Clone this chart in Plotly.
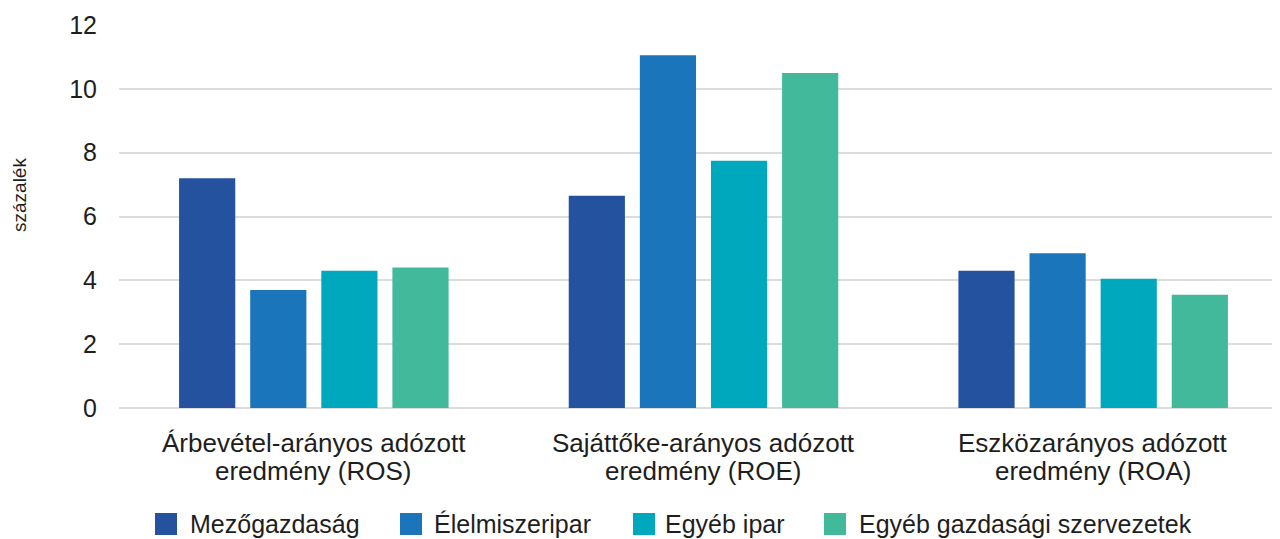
import plotly.graph_objects as go

categories = [
    "Árbevétel-arányos adózott eredmény (ROS)",
    "Sajáttőke-arányos adózott eredmény (ROE)",
    "Eszközarányos adózott eredmény (ROA)",
]
category_lines = [
    ("Árbevétel-arányos adózott", "eredmény (ROS)"),
    ("Sajáttőke-arányos adózott", "eredmény (ROE)"),
    ("Eszközarányos adózott", "eredmény (ROA)"),
]
series_names = ["Mezőgazdaság", "Élelmiszeripar", "Egyéb ipar", "Egyéb gazdasági szervezetek"]
mezogazdasag = [7.2, 6.65, 4.3]
elelmiszeripar = [3.7, 11.05, 4.85]
egyeb_ipar = [4.3, 7.75, 4.05]
egyeb_gazd = [4.4, 10.5, 3.55]
y_ticks = [0, 2, 4, 6, 8, 10, 12]

colors = ["#24529f", "#1b75bb", "#00a8bd", "#42b99b"]
values = [mezogazdasag, elelmiszeripar, egyeb_ipar, egyeb_gazd]

W, H = 1280, 539
L, R, T, B = 111, 0, 17, 139
PW, PH = W - L - R, H - T - B


def px(fx):
    return (fx - L) / PW


def py(fy):
    return (T + PH - fy) / PH


TEXT = "#1e1e1e"
FONT = "Liberation Sans, Arial, sans-serif"

fig = go.Figure()

# ---------------- BARS ----------------
for name, vals, col in zip(series_names, values, colors):
    fig.add_trace(go.Bar(
        x=categories,
        y=vals,
        name=name,
        marker=dict(color=col, line=dict(width=0)),
        showlegend=False,
    ))

annotations = []
shapes = []

# ---------------- CATEGORY LABELS (two lines, tight spacing) ----------------
for cat, (l1, l2) in zip(categories, category_lines):
    for txt, fy in ((l1, 435), (l2, 463)):
        annotations.append(dict(
            x=cat, xref="x", y=py(fy), yref="paper",
            text=txt, showarrow=False,
            xanchor="center", yanchor="middle",
            font=dict(size=26, color=TEXT),
        ))

# ---------------- Y TITLE ----------------
annotations.append(dict(
    text="százalék", textangle=-90,
    xref="paper", yref="paper", x=px(11), y=py(187),
    xanchor="center", yanchor="middle", showarrow=False,
    font=dict(size=19, color=TEXT),
))

# ---------------- LEGEND (drawn by hand for large swatches) ----------------
legend_sq = [147, 392, 625, 816]
legend_txt = [180, 424, 655, 849]
leg_y = 516
for name, col, sx, tx in zip(series_names, colors, legend_sq, legend_txt):
    shapes.append(dict(
        type="rect", xref="paper", yref="paper",
        x0=px(sx), x1=px(sx + 22), y0=py(leg_y + 11), y1=py(leg_y - 11),
        fillcolor=col, line=dict(width=0),
    ))
    annotations.append(dict(
        text=name, xref="paper", yref="paper",
        x=px(tx), y=py(leg_y), xanchor="left", yanchor="middle",
        showarrow=False, font=dict(size=25, color=TEXT),
    ))

fig.update_layout(
    width=W,
    height=H,
    paper_bgcolor="white",
    plot_bgcolor="white",
    barmode="group",
    bargap=0.27,
    bargroupgap=0.21,
    margin=dict(l=L, r=R, t=T, b=B),
    font=dict(family=FONT, color=TEXT, size=25),
    showlegend=False,
    annotations=annotations,
    shapes=shapes,
)

fig.update_xaxes(
    showgrid=False,
    showline=False,
    ticks="",
    showticklabels=False,
)

fig.update_yaxes(
    range=[0, 12],
    tickvals=y_ticks,
    showgrid=True,
    gridcolor="#dcdcdc",
    gridwidth=2,
    zeroline=True,
    zerolinecolor="#dcdcdc",
    zerolinewidth=2,
    ticks="",
    ticklabelstandoff=21,
    tickfont=dict(size=25, color=TEXT),
)

fig.write_html("out.html")
